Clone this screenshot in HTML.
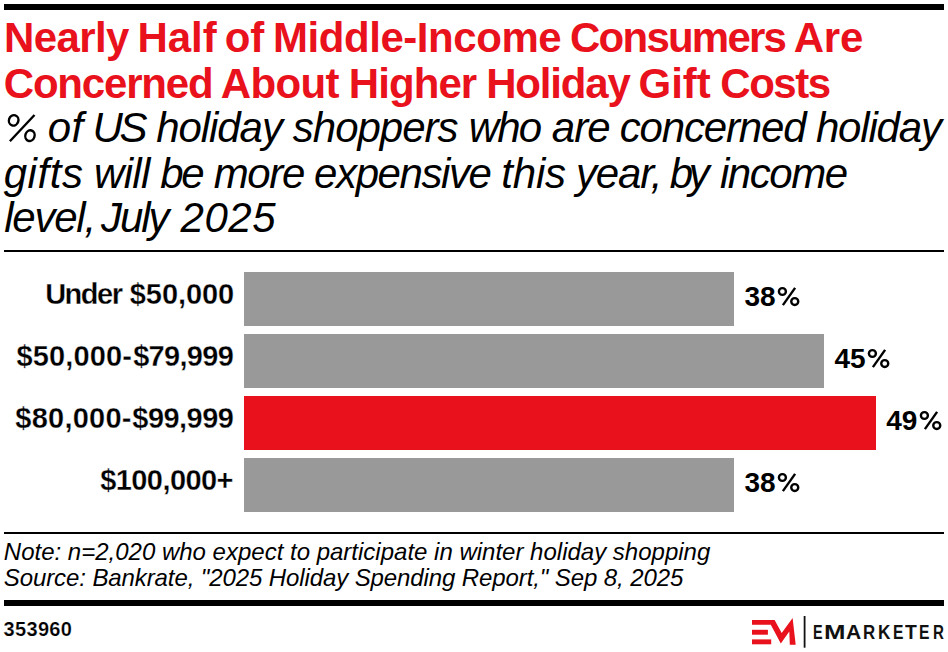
<!DOCTYPE html>
<html><head><meta charset="utf-8">
<style>
html,body{margin:0;padding:0;background:#fff;}
body{width:948px;height:652px;position:relative;overflow:hidden;font-family:"Liberation Sans",sans-serif;color:#000;}
.abs{position:absolute;white-space:nowrap;}
.title{color:#E8111C;font-weight:bold;font-size:42px;line-height:46px;}
.sub{font-style:italic;font-size:42px;line-height:44px;}
.line{background:#000;}
.bar{position:absolute;left:244px;height:54px;background:#999;}
.cat{position:absolute;-webkit-text-stroke:0.3px #fff;font-weight:bold;font-size:29px;line-height:34px;text-align:right;}
.val{position:absolute;font-weight:bold;font-size:28px;line-height:34px;}
.em{top:620px;font-weight:bold;font-size:20px;line-height:24px;color:#111;transform-origin:0 0;}
.pc{font-weight:normal;}
.note{font-style:italic;font-size:24px;line-height:26px;}
</style></head><body>
<div class="abs line" style="left:4px;top:4px;width:940px;height:6px"></div>
<div class="abs title" style="left:3.99px;top:15px;letter-spacing:-0.608px">Nearly</div>
<div class="abs title" style="left:137.43px;top:15px;letter-spacing:-0.014px">Half</div>
<div class="abs title" style="left:224.64px;top:15px;letter-spacing:0.088px">of</div>
<div class="abs title" style="left:272.93px;top:15px;letter-spacing:-0.435px">Middle-Income</div>
<div class="abs title" style="left:570.07px;top:15px;letter-spacing:-1.776px">Consumers</div>
<div class="abs title" style="left:793.68px;top:15px;letter-spacing:-0.138px">Are</div>
<div class="abs title" style="left:3.77px;top:61px;letter-spacing:-1.192px">Concerned</div>
<div class="abs title" style="left:220.68px;top:61px;letter-spacing:-0.609px">About</div>
<div class="abs title" style="left:348.83px;top:61px;letter-spacing:-0.933px">Higher</div>
<div class="abs title" style="left:486.23px;top:61px;letter-spacing:-1.192px">Holiday</div>
<div class="abs title" style="left:638.47px;top:61px;letter-spacing:0.026px">Gift</div>
<div class="abs title" style="left:720.27px;top:61px;letter-spacing:-1.442px">Costs</div>
<svg class="abs" style="left:4px;top:110px" width="36" height="36" viewBox="0 0 36 36"><g fill="none" stroke="#000" stroke-width="2.4"><ellipse cx="9.65" cy="10.35" rx="4.7" ry="5.3" transform="rotate(18 9.65 10.35)"/><ellipse cx="25.95" cy="25.65" rx="4.6" ry="5.4" transform="rotate(18 25.95 25.65)"/><path d="M5.9 31.2 L30.5 5.0"/></g></svg>
<div class="abs sub" style="left:47.75px;top:106px;letter-spacing:0.312px">of</div>
<div class="abs sub" style="left:92.46px;top:106px;letter-spacing:-3.361px">US</div>
<div class="abs sub" style="left:156.13px;top:106px;letter-spacing:-1.056px">holiday</div>
<div class="abs sub" style="left:292.82px;top:106px;letter-spacing:-1.011px">shoppers</div>
<div class="abs sub" style="left:468.77px;top:106px;letter-spacing:-1.867px">who</div>
<div class="abs sub" style="left:551.83px;top:106px;letter-spacing:-0.955px">are</div>
<div class="abs sub" style="left:619.76px;top:106px;letter-spacing:-1.164px">concerned</div>
<div class="abs sub" style="left:815.93px;top:106px;letter-spacing:-1.189px">holiday</div>
<div class="abs sub" style="left:3.64px;top:152px;letter-spacing:0.577px">gifts</div>
<div class="abs sub" style="left:93.97px;top:152px;letter-spacing:-0.629px">will</div>
<div class="abs sub" style="left:160.19px;top:152px;letter-spacing:-2.171px">be</div>
<div class="abs sub" style="left:213.73px;top:152px;letter-spacing:-1.372px">more</div>
<div class="abs sub" style="left:314.12px;top:152px;letter-spacing:-1.416px">expensive</div>
<div class="abs sub" style="left:501.25px;top:152px;letter-spacing:-0.19px">this</div>
<div class="abs sub" style="left:575.93px;top:152px;letter-spacing:-1.145px">year,</div>
<div class="abs sub" style="left:669.69px;top:152px;letter-spacing:-4.233px">by</div>
<div class="abs sub" style="left:719.95px;top:152px;letter-spacing:-1.464px">income</div>
<div class="abs sub" style="left:4.15px;top:196px;letter-spacing:-1.22px">level,</div>
<div class="abs sub" style="left:100.97px;top:196px;letter-spacing:-2.034px">July</div>
<div class="abs sub" style="left:180.59px;top:196px;letter-spacing:0.519px">2025</div>
<div class="abs line" style="left:4px;top:250px;width:940px;height:2px"></div>

<div class="bar" style="top:272px;width:490px"></div>
<div class="bar" style="top:334px;width:580px"></div>
<div class="bar" style="top:396px;width:632px;background:#E8111C"></div>
<div class="bar" style="top:458px;width:490px"></div>

<div class="abs cat" style="left:45.17px;top:277px;letter-spacing:-1.502px">Under</div>
<div class="abs cat" style="left:129.84px;top:277px;letter-spacing:-0.094px">$50,000</div>
<div class="abs cat" style="left:16.54px;top:339px;letter-spacing:0.143px">$50,000-</div>
<div class="abs cat" style="left:133.14px;top:339px;letter-spacing:-0.685px">$79,999</div>
<div class="abs cat" style="left:15.34px;top:401px;letter-spacing:0.229px">$80,000-</div>
<div class="abs cat" style="left:132.34px;top:401px;letter-spacing:-0.552px">$99,999</div>
<div class="abs cat" style="left:100.14px;top:463px;letter-spacing:-0.563px">$100,000+</div>

<div class="abs val" style="left:744.4px;top:280px">38</div>
<div class="abs val" style="left:834.5px;top:342px">45</div>
<div class="abs val" style="left:886.2px;top:404px">49</div>
<div class="abs val" style="left:744.4px;top:466px">38</div>

<svg class="abs" style="left:776px;top:284px" width="26" height="26" viewBox="0 0 26 26"><g fill="none" stroke="#000" stroke-width="2.4"><ellipse cx="6.4" cy="7.5" rx="3.5" ry="3.4"/><ellipse cx="18.75" cy="17.55" rx="3.5" ry="3.4"/><path d="M6.9 21.1 L19.1 3.9"/></g></svg>
<svg class="abs" style="left:865.8px;top:346px" width="26" height="26" viewBox="0 0 26 26"><g fill="none" stroke="#000" stroke-width="2.4"><ellipse cx="6.4" cy="7.5" rx="3.5" ry="3.4"/><ellipse cx="18.75" cy="17.55" rx="3.5" ry="3.4"/><path d="M6.9 21.1 L19.1 3.9"/></g></svg>
<svg class="abs" style="left:917.7px;top:408px" width="26" height="26" viewBox="0 0 26 26"><g fill="none" stroke="#000" stroke-width="2.4"><ellipse cx="6.4" cy="7.5" rx="3.5" ry="3.4"/><ellipse cx="18.75" cy="17.55" rx="3.5" ry="3.4"/><path d="M6.9 21.1 L19.1 3.9"/></g></svg>
<svg class="abs" style="left:776px;top:470px" width="26" height="26" viewBox="0 0 26 26"><g fill="none" stroke="#000" stroke-width="2.4"><ellipse cx="6.4" cy="7.5" rx="3.5" ry="3.4"/><ellipse cx="18.75" cy="17.55" rx="3.5" ry="3.4"/><path d="M6.9 21.1 L19.1 3.9"/></g></svg>
<div class="abs line" style="left:4px;top:532px;width:940px;height:2px"></div>
<div class="abs note" style="left:3.8px;top:539px">Note: n=2,020 who expect to participate in winter holiday shopping</div>
<div class="abs note" style="left:3.8px;top:565px;letter-spacing:-0.1px">Source: Bankrate, "2025 Holiday Spending Report," Sep 8, 2025</div>
<div class="abs line" style="left:4px;top:600px;width:940px;height:6px"></div>
<div class="abs" style="left:3.6px;top:617px;-webkit-text-stroke:0.2px #fff;font-weight:bold;font-size:20px;line-height:24px;letter-spacing:0.32px">353960</div>

<svg class="abs" style="left:745px;top:610px" width="70" height="42" viewBox="0 0 70 42">
<path fill="#E8111C" d="M7 10 H29.6 L36.7 23.1 L47.6 8 L50.7 34.7 H44.8 L44.3 21.4 L35.8 33.6 L25.8 14.8 H7 Z"/>
<rect fill="#E8111C" x="7" y="19.8" width="15.9" height="4.9"/>
<rect fill="#E8111C" x="7" y="29.4" width="19.2" height="4.9"/>
<rect fill="#111" x="58.7" y="6" width="1.8" height="31.7"/>
</svg>
<div class="abs em" style="left:813.10px;transform:scaleX(0.720)">E</div>
<div class="abs em" style="left:824.11px;transform:scaleX(1.289)">M</div>
<div class="abs em" style="left:846.17px;transform:scaleX(1.054)">A</div>
<div class="abs em" style="left:863.10px;transform:scaleX(0.844)">R</div>
<div class="abs em" style="left:877.90px;transform:scaleX(0.859)">K</div>
<div class="abs em" style="left:892.81px;transform:scaleX(0.782)">E</div>
<div class="abs em" style="left:905.02px;transform:scaleX(0.969)">T</div>
<div class="abs em" style="left:919.41px;transform:scaleX(0.782)">E</div>
<div class="abs em" style="left:933.05px;transform:scaleX(0.757)">R</div>
</body></html>
